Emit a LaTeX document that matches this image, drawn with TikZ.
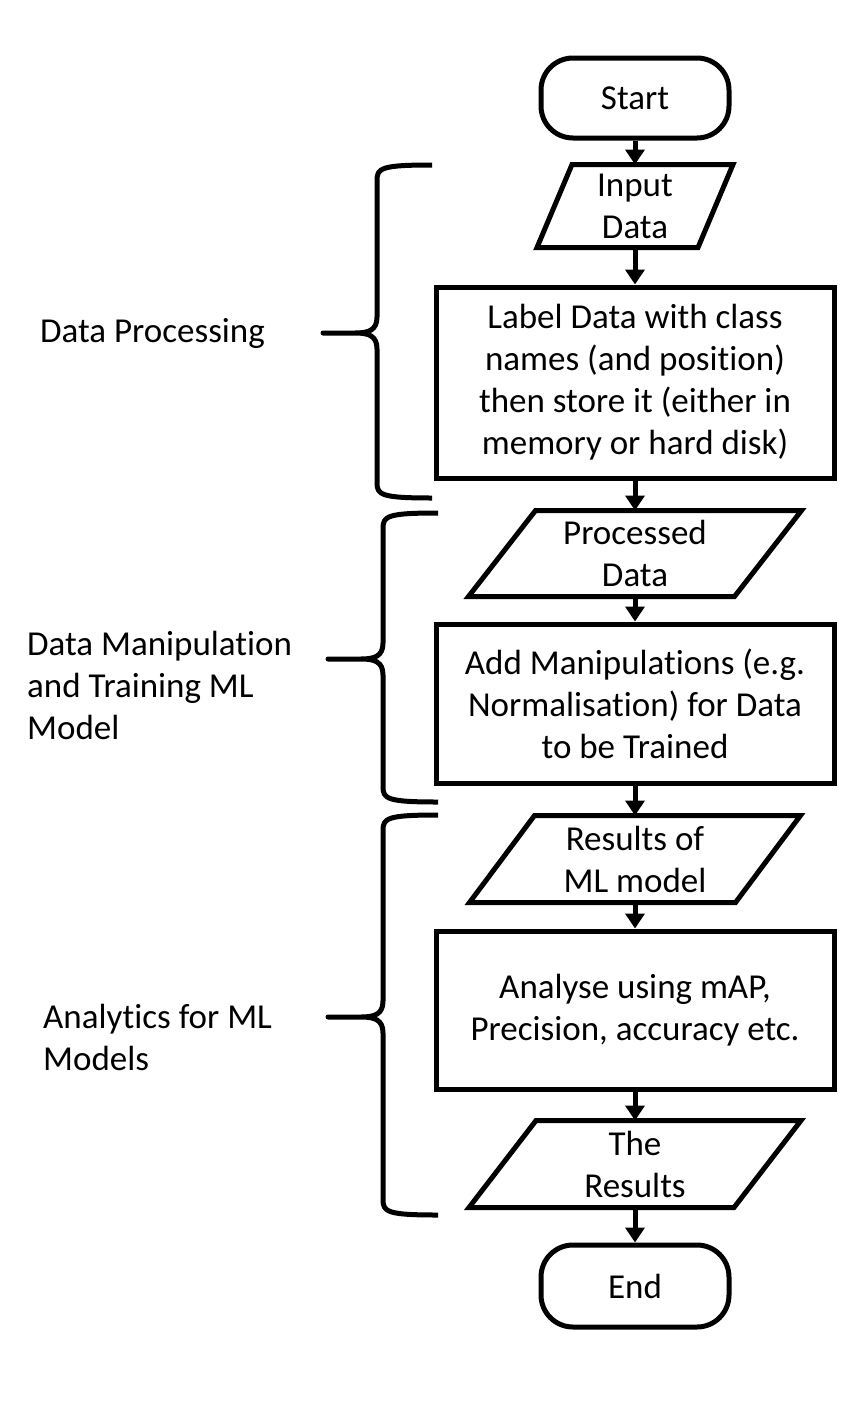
\documentclass[tikz,border=0pt]{standalone}
\usepackage{fontspec}
\setmainfont{Carlito}[Ligatures={NoCommon}]
\usetikzlibrary{arrows.meta}
\tikzset{
  base/.style={line width=5pt, inner sep=0pt, outer sep=2.5pt, align=center, font=\fontsize{35}{42}\selectfont},
  procbox/.style={base, draw, rectangle, minimum width=398pt},
  termbox/.style={base, draw, rectangle, rounded corners=32pt, minimum width=188pt, minimum height=80pt},
  iobox/.style={base, rectangle},
  iodraw/.style={line width=5pt, line join=miter},
  arr/.style={line width=5pt, -{Triangle[width=19pt,length=15pt]}},
  bracestyle/.style={line width=5pt, line join=round},
  sidelabel/.style={inner sep=0pt, align=left, anchor=west, font=\fontsize{35}{42}\selectfont}
}
\newcommand\mybrace[6]{%
  \draw[bracestyle] (#1,#4) .. controls (#2+5,#4) and (#2,#4-3) .. (#2,#4-15)
    -- (#2,#5+16) .. controls (#2,#5+3) and (#2-8,#5) .. (#2-22,#5) -- (#3,#5)
    -- (#2-22,#5) .. controls (#2-8,#5) and (#2,#5-3) .. (#2,#5-16)
    -- (#2,#6+15) .. controls (#2,#6+3) and (#2+5,#6) .. (#1,#6);}
\newcommand\iopath[2]{% node, slant
  \draw[iodraw] (#1.south west) -- ([xshift=-#2]#1.south east) -- (#1.north east) -- ([xshift=#2]#1.north west) -- cycle;}
\begin{document}
\begin{tikzpicture}[x=1pt,y=1pt]
\useasboundingbox (0,0) rectangle (858,-1416);
\node[termbox] (start) at (635,-98) {Start};
\node[iobox, minimum width=191pt, minimum height=78pt] (input) at (635,-206) {Input\\Data};
\iopath{input}{35pt}
\node[procbox, minimum height=191pt] (label) at (635,-382.5) {Label Data with class\\names (and position)\\then store it (either in\\memory or hard disk)};
\node[iobox, minimum width=328pt, minimum height=81pt] (proc) at (635,-553.5) {Processed\\Data};
\iopath{proc}{67pt}
\node[procbox, minimum height=159pt] (add) at (635,-703.5) {Add Manipulations (e.g.\\Normalisation) for Data\\to be Trained};
\node[iobox, minimum width=326pt, minimum height=82pt] (res) at (635,-859) {Results of\\ML model};
\iopath{res}{65pt}
\node[procbox, minimum height=158pt] (ana) at (635,-1010) {Analyse using mAP,\\Precision, accuracy etc.};
\node[iobox, minimum width=327pt, minimum height=82pt] (the) at (635,-1164) {The\\Results};
\iopath{the}{67pt}
\node[termbox, minimum height=82pt] (end) at (635,-1286) {End};

\draw[arr] (start.south) -- (input.north);
\draw[arr] (input.south) -- (label.north);
\draw[arr] (label.south) -- (proc.north);
\draw[arr] (proc.south) -- (add.north);
\draw[arr] (add.south) -- (res.north);
\draw[arr] (res.south) -- (ana.north);
\draw[arr] (ana.south) -- (the.north);
\draw[arr] (the.south) -- (end.north);

\mybrace{432}{377}{323}{-165}{-333}{-498}
\mybrace{438}{383}{328}{-513}{-659}{-802}
\mybrace{438}{383}{328}{-815}{-1017}{-1215}

\node[sidelabel] (l1) at (40,-333) {Data Processing};
\node[sidelabel] (l2) at (27,-685) {Data Manipulation\\and Training ML\\Model};
\node[sidelabel] (l3) at (43,-1037.5) {Analytics for ML\\Models};
\end{tikzpicture}
\end{document}
